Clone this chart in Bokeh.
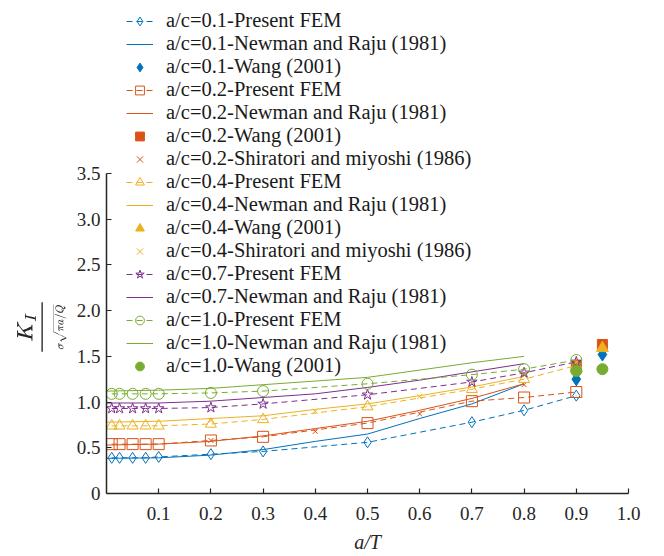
from bokeh.plotting import figure
from bokeh.models import Legend, LegendItem, FixedTicker, NumeralTickFormatter, Range1d, Title
from bokeh.embed import file_html
from bokeh.resources import INLINE

# ---------------- data ----------------
x_fem = [0.01, 0.025, 0.05, 0.075, 0.1, 0.2, 0.3, 0.5, 0.7, 0.8, 0.9]
fem_01 = [0.39, 0.39, 0.39, 0.39, 0.40, 0.43, 0.46, 0.56, 0.78, 0.91, 1.07]
fem_02 = [0.54, 0.54, 0.54, 0.54, 0.54, 0.58, 0.62, 0.77, 1.01, 1.05, 1.11]
fem_04 = [0.74, 0.74, 0.74, 0.74, 0.74, 0.76, 0.81, 0.95, 1.14, 1.25, 1.40]
fem_07 = [0.93, 0.93, 0.93, 0.93, 0.93, 0.94, 0.98, 1.08, 1.22, 1.32, 1.44]
fem_10 = [1.09, 1.09, 1.09, 1.09, 1.09, 1.10, 1.12, 1.20, 1.30, 1.36, 1.46]

x_nr = [0.0, 0.1, 0.2, 0.3, 0.4, 0.5, 0.6, 0.7, 0.8]
nr_01 = [0.385, 0.39, 0.42, 0.48, 0.57, 0.65, 0.82, 0.98, 1.20]
nr_02 = [0.53, 0.54, 0.57, 0.63, 0.71, 0.79, 0.91, 1.04, 1.20]
nr_04 = [0.78, 0.79, 0.82, 0.85, 0.92, 0.98, 1.07, 1.165, 1.28]
nr_07 = [0.99, 0.99, 1.01, 1.05, 1.09, 1.16, 1.24, 1.33, 1.42]
nr_10 = [1.12, 1.13, 1.15, 1.19, 1.23, 1.27, 1.35, 1.43, 1.50]

x_wang = [0.9, 0.95]
wang_01 = [1.25, 1.52]
wang_02 = [1.40, 1.63]
wang_04 = [1.37, 1.59]
wang_10 = [1.34, 1.36]

x_shira = [0.2, 0.4, 0.6, 0.8]
shira_02 = [0.58, 0.68, 0.87, 1.19]
shira_04 = [0.80, 0.90, 1.06, 1.30]

x_ticks = [0.1, 0.2, 0.3, 0.4, 0.5, 0.6, 0.7, 0.8, 0.9, 1.0]
y_ticks = [0, 0.5, 1.0, 1.5, 2.0, 2.5, 3.0, 3.5]
Y_AXIS_MAX = 3.5

C_BLUE = "#0072BD"
C_RED = "#D95319"
C_YEL = "#EDB120"
C_PUR = "#7E2F8E"
C_GRN = "#77AC30"
FONT = "Liberation Serif"

# frame extends above the axis top so the legend (which overlaps the top area) is not clipped
AXIS_PX = 320          # pixel length of the 0..3.5 axis
FRAME_PX = 488         # full frame height
y_end = Y_AXIS_MAX * FRAME_PX / AXIS_PX

p = figure(output_backend="svg", toolbar_location=None,
           x_range=Range1d(0, 1.0), y_range=Range1d(0, y_end),
           frame_width=522, frame_height=FRAME_PX,
           min_border_left=106, min_border_right=36, min_border_top=5, min_border_bottom=60)
p.grid.visible = False
p.outline_line_color = None
p.background_fill_color = "white"
p.border_fill_color = "white"

for ax in (p.xaxis[0], p.yaxis[0]):
    ax.axis_line_color = "#262626"
    ax.axis_line_width = 1.5
    ax.major_tick_line_color = "#262626"
    ax.major_tick_line_width = 1.2
    ax.major_tick_in = 5
    ax.major_tick_out = 0
    ax.minor_tick_line_color = None
    ax.major_label_text_font = FONT
    ax.major_label_text_font_size = "19px"
    ax.major_label_text_color = "#262626"
    ax.axis_label_text_font = FONT
    ax.axis_label_text_color = "#262626"

p.xaxis.ticker = FixedTicker(ticks=x_ticks)
p.xaxis.formatter = NumeralTickFormatter(format="0.0")
p.xaxis.major_label_standoff = 13
p.xaxis.axis_label = "a/T"
p.xaxis.axis_label_text_font_style = "italic"
p.xaxis.axis_label_text_font_size = "20px"
p.xaxis.axis_label_standoff = 8

p.yaxis.ticker = FixedTicker(ticks=y_ticks)
p.yaxis.bounds = (0, Y_AXIS_MAX)
p.yaxis.formatter = NumeralTickFormatter(format="0.0")
p.yaxis.major_label_overrides = {0: "0"}
p.yaxis.major_label_standoff = 6

# y-axis label, centred on the 0..3.5 part of the axis
ylab = Title(text=r"$$\frac{K_I}{\scriptscriptstyle\sigma\sqrt{\pi a/Q}}$$", align="left", offset=139,
             text_font=FONT, text_font_size="22px", text_font_style="normal",
             text_color="#262626", standoff=14)
p.add_layout(ylab, "left")

items = []

def fem(x, y, color, marker, label):
    l = p.line(x, y, line_color=color, line_width=1, line_dash="6 4")
    s = p.scatter(x, y, marker=marker, size=11, line_color=color, fill_color=None, line_width=1)
    items.append(LegendItem(label=label, renderers=[l, s]))

def nr(x, y, color, label):
    l = p.line(x, y, line_color=color, line_width=1)
    items.append(LegendItem(label=label, renderers=[l]))

def wang(x, y, color, marker, label, size=11):
    s = p.scatter(x, y, marker=marker, size=size, line_color=color, fill_color=color)
    items.append(LegendItem(label=label, renderers=[s]))

def shira(x, y, color, label):
    s = p.scatter(x, y, marker="x", size=7, line_color=color, line_width=1)
    items.append(LegendItem(label=label, renderers=[s]))

fem(x_fem, fem_01, C_BLUE, "diamond", "a/c=0.1-Present FEM")
nr(x_nr, nr_01, C_BLUE, "a/c=0.1-Newman and Raju (1981)")
wang(x_wang, wang_01, C_BLUE, "diamond", "a/c=0.1-Wang (2001)", 13)
fem(x_fem, fem_02, C_RED, "square", "a/c=0.2-Present FEM")
nr(x_nr, nr_02, C_RED, "a/c=0.2-Newman and Raju (1981)")
wang(x_wang, wang_02, C_RED, "square", "a/c=0.2-Wang (2001)", 10)
shira(x_shira, shira_02, C_RED, "a/c=0.2-Shiratori and miyoshi (1986)")
fem(x_fem, fem_04, C_YEL, "triangle", "a/c=0.4-Present FEM")
nr(x_nr, nr_04, C_YEL, "a/c=0.4-Newman and Raju (1981)")
wang(x_wang, wang_04, C_YEL, "triangle", "a/c=0.4-Wang (2001)", 12)
shira(x_shira, shira_04, C_YEL, "a/c=0.4-Shiratori and miyoshi (1986)")
fem(x_fem, fem_07, C_PUR, "star", "a/c=0.7-Present FEM")
nr(x_nr, nr_07, C_PUR, "a/c=0.7-Newman and Raju (1981)")
fem(x_fem, fem_10, C_GRN, "circle", "a/c=1.0-Present FEM")
nr(x_nr, nr_10, C_GRN, "a/c=1.0-Newman and Raju (1981)")
wang(x_wang, wang_10, C_GRN, "circle", "a/c=1.0-Wang (2001)", 11)

legend = Legend(items=items, location=(20, 116), orientation="vertical",
                label_text_font=FONT, label_text_font_size="20.5px", label_text_color="#1a1a1a",
                label_text_line_height=1.0,
                glyph_width=27, glyph_height=22, label_height=22, spacing=0,
                label_standoff=13, padding=0, margin=0,
                background_fill_alpha=0, border_line_color=None)
p.add_layout(legend, "center")

open("out.html", "w").write(file_html(p, INLINE))
